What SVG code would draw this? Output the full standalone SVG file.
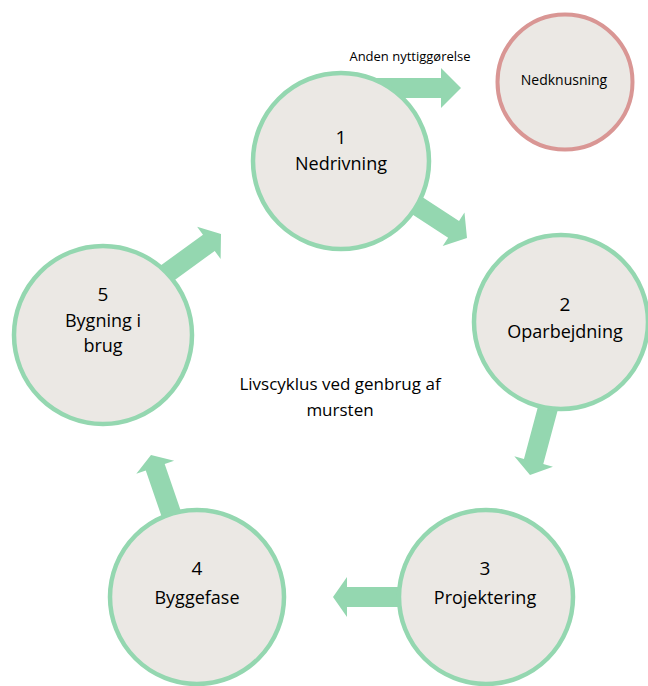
<svg xmlns="http://www.w3.org/2000/svg" width="648" height="686" viewBox="0 0 648 686">
<style>
.arrow{fill:#94d7b0}
.node{fill:#ebe8e4;stroke:#94d7b0;stroke-width:4.5}
.red{fill:#ebe8e4;stroke:#d99694;stroke-width:4}
text{font-family:"Open Sans","Liberation Sans",sans-serif;fill:#000;text-anchor:middle}
.big{font-size:18px}
.num{font-size:19px}
.sm{font-size:13px}
</style>
<defs>
<path id="arr" d="M0,0 L-20,-20 L-20,-10 L-100,-10 L-100,10 L-20,10 L-20,20 Z"/>
</defs>
<rect width="648" height="686" fill="#fff"/>
<g id="connectors">
<use href="#arr" class="arrow" transform="translate(461,88)"/>
<use href="#arr" class="arrow" transform="translate(467,238) rotate(33) scale(0.8,1)"/>
<use href="#arr" class="arrow" transform="translate(530,475) rotate(105) scale(0.7,1)"/>
<use href="#arr" class="arrow" transform="translate(333,597) rotate(180) scale(0.7,1)"/>
<use href="#arr" class="arrow" transform="translate(151,455) rotate(-109) scale(0.65,1)"/>
<use href="#arr" class="arrow" transform="translate(221,234) rotate(-36) scale(0.75,1)"/>
<text class="sm" x="410" y="61">Anden nyttiggørelse</text>
</g>
<g id="n1">
<circle class="node" cx="341" cy="161" r="88"/>
<text class="num" x="341" y="144">1</text>
<text class="big" x="341" y="170">Nedrivning</text>
</g>
<g id="nk">
<circle class="red" cx="565" cy="82" r="67.5"/>
<text style="font-size:14px" x="564" y="85">Nedknusning</text>
</g>
<g id="n2">
<circle class="node" cx="561" cy="322" r="87"/>
<text class="num" x="565" y="311">2</text>
<text class="big" x="565" y="338">Oparbejdning</text>
</g>
<g id="n3">
<circle class="node" cx="486" cy="597" r="87"/>
<text class="num" x="485" y="575">3</text>
<text class="big" x="485" y="604">Projektering</text>
</g>
<g id="n4">
<circle class="node" cx="197" cy="597" r="87"/>
<text class="num" x="197" y="575">4</text>
<text class="big" x="197" y="604">Byggefase</text>
</g>
<g id="n5">
<circle class="node" cx="103" cy="335" r="89"/>
<text class="num" x="103" y="301">5</text>
<text class="big" x="103" y="327">Bygning i</text>
<text class="big" x="103" y="352">brug</text>
</g>
<g id="center">
<text style="font-size:17px" x="340" y="390">Livscyklus ved genbrug af</text>
<text style="font-size:17px" x="340" y="416">mursten</text>
</g>
</svg>
